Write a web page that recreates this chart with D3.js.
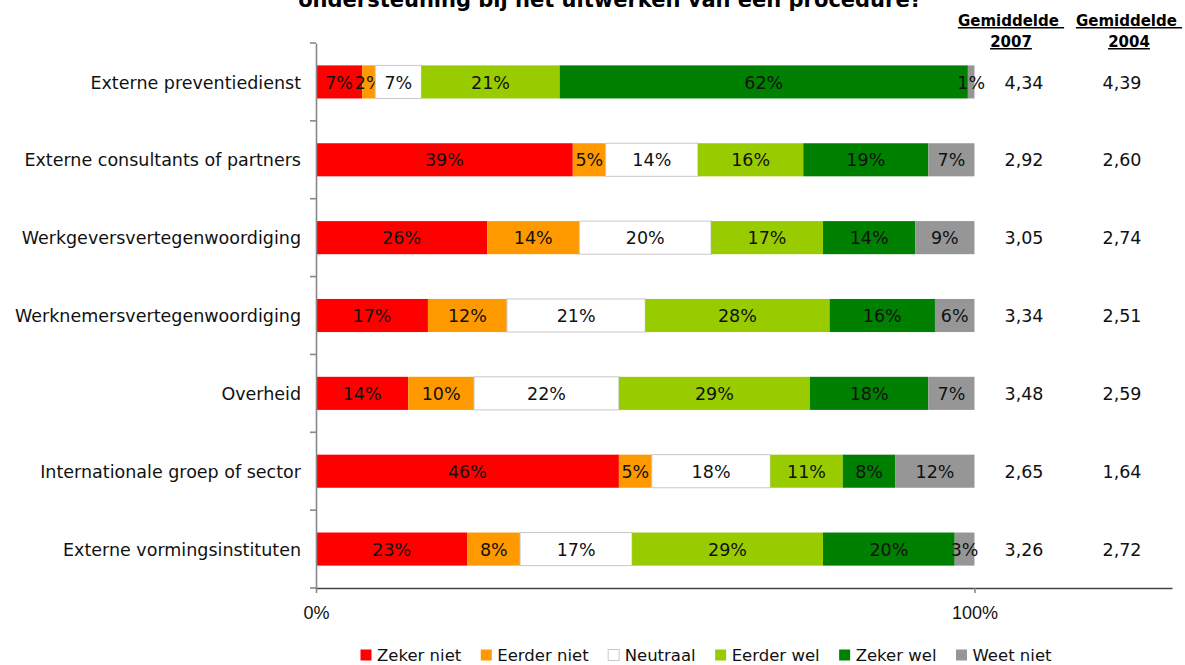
<!DOCTYPE html>
<html>
<head>
<meta charset="utf-8">
<script src="https://cdn.jsdelivr.net/npm/d3@7"></script>
<style>
  html, body { margin: 0; padding: 0; background: #fff; }
  svg { display: block; }
</style>
</head>
<body>
<svg id="chart" width="1185" height="665"></svg>
<script>
// Survey answers per source of support (percent of respondents)
const categories = [
  "Externe preventiedienst",
  "Externe consultants of partners",
  "Werkgeversvertegenwoordiging",
  "Werknemersvertegenwoordiging",
  "Overheid",
  "Internationale groep of sector",
  "Externe vormingsinstituten"
];
const answers = ["Zeker niet", "Eerder niet", "Neutraal", "Eerder wel", "Zeker wel", "Weet niet"];
const zekerNiet  = [7, 39, 26, 17, 14, 46, 23];
const eerderNiet = [2, 5, 14, 12, 10, 5, 8];
const neutraal   = [7, 14, 20, 21, 22, 18, 17];
const eerderWel  = [21, 16, 17, 28, 29, 11, 29];
const zekerWel   = [62, 19, 14, 16, 18, 8, 20];
const weetNiet   = [1, 7, 9, 6, 7, 12, 3];
const gemiddelde2007 = ["4,34", "2,92", "3,05", "3,34", "3,48", "2,65", "3,26"];
const gemiddelde2004 = ["4,39", "2,60", "2,74", "2,51", "2,59", "1,64", "2,72"];
const xTicks = [0, 100];
const titleText = "ondersteuning bij het uitwerken van een procedure?";

const colors = ["#ff0000", "#ff9900", "#ffffff", "#99cc00", "#008000", "#969696"];
const seriesValues = [zekerNiet, eerderNiet, neutraal, eerderWel, zekerWel, weetNiet];

const rows = categories.map((c, i) => {
  const r = { category: c };
  answers.forEach((a, k) => { r[a] = seriesValues[k][i]; });
  return r;
});

const svg = d3.select("#chart");
const labelFont = "'DejaVu Sans', Verdana, sans-serif";
const narrowFont = "'Liberation Sans Narrow', 'Arial Narrow', 'Liberation Sans', sans-serif";

const plot = { left: 316, right: 1172, top: 43, bottom: 588 };

const x = d3.scaleLinear().domain([0, 130]).range([plot.left, plot.right]);
const y = d3.scaleBand().domain(categories).range([plot.top, plot.bottom]).paddingInner(0.575).paddingOuter(0.2875);
const color = d3.scaleOrdinal().domain(answers).range(colors);

const stacked = d3.stack().keys(answers)(rows);

// Title (only its last line fits on the canvas)
svg.append("text")
  .attr("x", 610).attr("y", 7)
  .attr("text-anchor", "middle")
  .style("font-family", labelFont)
  .style("font-weight", "bold")
  .style("font-size", "21px")
  .attr("fill", "#000")
  .text(titleText);

// Bars
const layers = svg.append("g").selectAll("g")
  .data(stacked).join("g")
  .attr("fill", d => color(d.key));

layers.selectAll("rect")
  .data(d => d.map(s => ({ s, key: d.key })))
  .join("rect")
  .attr("x", d => x(d.s[0]))
  .attr("y", d => y(d.s.data.category))
  .attr("width", d => x(d.s[1]) - x(d.s[0]))
  .attr("height", y.bandwidth())
  .attr("stroke", d => d.key === "Neutraal" ? "#c8c8c8" : "none")
  .attr("stroke-width", 1);

// Value labels centred in each segment
layers.selectAll("text")
  .data(d => d.map(s => ({ s, key: d.key })))
  .join("text")
  .attr("x", d => (x(d.s[0]) + x(d.s[1])) / 2)
  .attr("y", d => y(d.s.data.category) + y.bandwidth() / 2)
  .attr("dy", "0.38em")
  .attr("text-anchor", "middle")
  .attr("fill", "#111")
  .style("font-family", labelFont)
  .style("font-size", "17.5px")
  .text(d => (d.s[1] - d.s[0]) + "%");

// Y axis with category labels
const yAxis = d3.axisLeft(y).tickSize(0).tickPadding(15);
const gy = svg.append("g").attr("transform", `translate(${plot.left},0)`).call(yAxis);
gy.select(".domain").attr("stroke", "#888").attr("stroke-width", 1.6);
gy.selectAll(".tick text")
  .attr("dy", "0.38em")
  .style("font-family", labelFont)
  .style("font-size", "17.5px")
  .attr("fill", "#111");

// Tick marks between categories
const boundaries = d3.range(categories.length + 1).map(i => plot.top + i * y.step());
svg.append("g").selectAll("line")
  .data(boundaries).join("line")
  .attr("x1", plot.left - 6).attr("x2", plot.left)
  .attr("y1", d => d).attr("y2", d => d)
  .attr("stroke", "#888").attr("stroke-width", 1.6);

// X axis
const xAxis = d3.axisBottom(x).tickValues(xTicks).tickSize(5).tickSizeOuter(0)
  .tickPadding(13).tickFormat(d => d + "%");
const gx = svg.append("g").attr("transform", `translate(0,${plot.bottom})`).call(xAxis);
gx.select(".domain").attr("stroke", "#444").attr("stroke-width", 1.4);
gx.selectAll(".tick line").attr("stroke", "#888").attr("stroke-width", 1.6);
gx.selectAll(".tick text")
  .style("font-family", narrowFont)
  .style("font-size", "18px")
  .attr("fill", "#111");

// Average score columns
const avgCols = [
  { head: "2007", values: gemiddelde2007, hx: 1011, vx: 1024 },
  { head: "2004", values: gemiddelde2004, hx: 1129, vx: 1122 }
];
avgCols.forEach(col => {
  const h = svg.append("g")
    .style("font-family", labelFont)
    .style("font-weight", "bold")
    .style("font-size", "15px")
    .attr("fill", "#000")
    .attr("text-anchor", "middle");
  h.append("text").attr("x", col.hx).attr("y", 26)
    .style("text-decoration", "underline")
    .text("Gemiddelde\u00a0");
  h.append("text").attr("x", col.hx).attr("y", 47)
    .style("text-decoration", "underline")
    .text(col.head);

  svg.append("g").selectAll("text")
    .data(col.values).join("text")
    .attr("x", col.vx)
    .attr("y", (d, i) => y(categories[i]) + y.bandwidth() / 2)
    .attr("dy", "0.38em")
    .attr("text-anchor", "middle")
    .attr("fill", "#111")
    .style("font-family", labelFont)
    .style("font-size", "17.5px")
    .text(d => d);
});

// Legend
const legend = svg.append("g").attr("transform", "translate(360,655)");
let lx = 0;
answers.forEach((a, i) => {
  const g = legend.append("g").attr("transform", `translate(${lx},0)`);
  g.append("rect")
    .attr("x", 0.5).attr("y", -5.5).attr("width", 11).attr("height", 11)
    .attr("fill", color(a))
    .attr("stroke", a === "Neutraal" ? "#c8c8c8" : "none");
  const t = g.append("text")
    .attr("x", 17).attr("y", 0).attr("dy", "0.34em")
    .attr("fill", "#111")
    .style("font-family", labelFont)
    .style("font-size", "16.5px")
    .text(a);
  lx += 17 + t.node().getComputedTextLength() + 19;
});
</script>
</body>
</html>
